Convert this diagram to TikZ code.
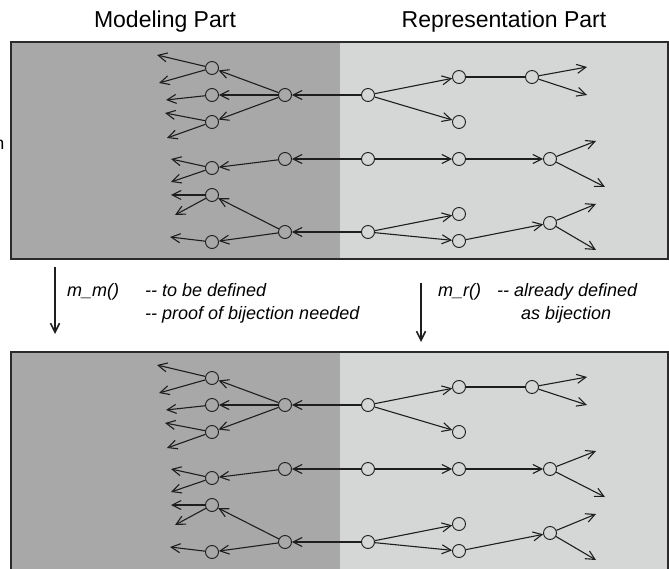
\documentclass[tikz,border=0pt]{standalone}
\usepackage{fontspec}
\setmainfont{Liberation Sans}
\usetikzlibrary{arrows.meta}

\definecolor{modelgray}{HTML}{A8A8A8}
\definecolor{reprgray}{HTML}{D5D6D6}
\definecolor{framecol}{HTML}{2B2B2B}
\definecolor{linecol}{HTML}{1E1E1E}

\tikzset{
  vtx/.style={circle, draw=linecol, line width=0.9pt, minimum size=13pt, inner sep=0pt},
  link/.style={draw=linecol, line width=1.1pt},
  arr/.style={link, -{Straight Barb[length=9pt,width=9pt,line width=1.1pt]}},
  maparr/.style={draw=linecol, line width=1.8pt, -{Straight Barb[length=9pt,width=9pt,line width=1.6pt]}},
  header/.style={font=\fontsize{23}{27}\selectfont, anchor=base, inner sep=0pt},
  note/.style={font=\fontsize{18}{22}\selectfont\itshape, anchor=base west, inner sep=0pt},
}

% One copy of the tree: modeling side on the left, representation side on the right
\newcommand\treenet[2]{%
\begin{scope}[shift={(0,#2)}]
  \node[vtx] (#1A1) at (212,68) {};
  \node[vtx] (#1A2) at (212,95) {};
  \node[vtx] (#1A3) at (212,122) {};
  \node[vtx] (#1A4) at (212,168) {};
  \node[vtx] (#1A5) at (212,195) {};
  \node[vtx] (#1A6) at (212,242) {};
  \node[vtx] (#1B1) at (285,95) {};
  \node[vtx] (#1B2) at (285,159) {};
  \node[vtx] (#1B3) at (285,232) {};
  \node[vtx] (#1C1) at (368,95) {};
  \node[vtx] (#1C2) at (368,159) {};
  \node[vtx] (#1C3) at (368,232) {};
  \node[vtx] (#1D1) at (459,77) {};
  \node[vtx] (#1D2) at (459,122) {};
  \node[vtx] (#1D3) at (459,159) {};
  \node[vtx] (#1D4) at (459,214) {};
  \node[vtx] (#1D5) at (459,241) {};
  \node[vtx] (#1E1) at (532,77) {};
  \node[vtx] (#1E2) at (550,159) {};
  \node[vtx] (#1E3) at (550,223) {};
  % open ends of the outer branches
  \coordinate (#1a1p) at (157,55);
  \coordinate (#1a1q) at (159,83);
  \coordinate (#1a2p) at (166,100);
  \coordinate (#1a3p) at (165,113);
  \coordinate (#1a3q) at (167,138);
  \coordinate (#1a4p) at (171,159);
  \coordinate (#1a4q) at (171,182);
  \coordinate (#1a5p) at (171,195);
  \coordinate (#1a5q) at (175,215);
  \coordinate (#1a6p) at (170,237);
  \coordinate (#1e1p) at (587,67);
  \coordinate (#1e1q) at (587,95);
  \coordinate (#1e2p) at (596,141);
  \coordinate (#1e2q) at (605,187);
  \coordinate (#1e3p) at (596,204);
  \coordinate (#1e3q) at (596,250);
  % modeling side
  \draw[arr] (#1C1) -- (#1B1);
  \draw[arr] (#1C2) -- (#1B2);
  \draw[arr] (#1C3) -- (#1B3);
  \draw[arr] (#1B1) -- (#1A1);
  \draw[arr] (#1B1) -- (#1A2);
  \draw[arr] (#1B1) -- (#1A3);
  \draw[arr] (#1B2) -- (#1A4);
  \draw[arr] (#1B3) -- (#1A5);
  \draw[arr] (#1B3) -- (#1A6);
  \draw[arr] (#1A1) -- (#1a1p);
  \draw[arr] (#1A1) -- (#1a1q);
  \draw[arr] (#1A2) -- (#1a2p);
  \draw[arr] (#1A3) -- (#1a3p);
  \draw[arr] (#1A3) -- (#1a3q);
  \draw[arr] (#1A4) -- (#1a4p);
  \draw[arr] (#1A4) -- (#1a4q);
  \draw[arr] (#1A5) -- (#1a5p);
  \draw[arr] (#1A5) -- (#1a5q);
  \draw[arr] (#1A6) -- (#1a6p);
  % representation side
  \draw[arr] (#1C1) -- (#1D1);
  \draw[arr] (#1C1) -- (#1D2);
  \draw[link] (#1D1) -- (#1E1);
  \draw[arr] (#1E1) -- (#1e1p);
  \draw[arr] (#1E1) -- (#1e1q);
  \draw[arr] (#1C2) -- (#1D3);
  \draw[arr] (#1D3) -- (#1E2);
  \draw[arr] (#1E2) -- (#1e2p);
  \draw[arr] (#1E2) -- (#1e2q);
  \draw[arr] (#1C3) -- (#1D4);
  \draw[arr] (#1C3) -- (#1D5);
  \draw[arr] (#1D5) -- (#1E3);
  \draw[arr] (#1E3) -- (#1e3p);
  \draw[arr] (#1E3) -- (#1e3q);
\end{scope}}

\begin{document}
\begin{tikzpicture}[x=1pt,y=-1pt]
  \useasboundingbox (0,0) rectangle (669,569);

  % upper panel
  \fill[modelgray] (11,42) rectangle (340,259);
  \fill[reprgray] (340,42) rectangle (668,259);
  \draw[framecol, line width=2pt] (11,42) rectangle (668,259);

  % lower panel (runs past the lower edge)
  \fill[modelgray] (11,352) rectangle (340,580);
  \fill[reprgray] (340,352) rectangle (668,580);
  \draw[framecol, line width=2pt] (11,352) rectangle (668,580);

  \treenet{t}{0}
  \treenet{b}{310}

  % column headers
  \node[header] (hmod) at (165,28) {Modeling Part};
  \node[header] (hrep) at (504,28) {Representation Part};
  \node[note, anchor=base east, font=\fontsize{17.5}{21}\selectfont] (cut) at (4.5,150) {n};

  % mappings between the two panels
  \coordinate (mmtop) at (55,267);
  \coordinate (mmbot) at (55,334);
  \coordinate (mrtop) at (421,283);
  \coordinate (mrbot) at (421,342);
  \draw[maparr] (mmtop) -- (mmbot);
  \draw[maparr] (mrtop) -- (mrbot);

  \node[note] (mmname) at (67,296) {m\_m()};
  \node[note] (mmdef) at (145,296) {-{}- to be defined};
  \node[note] (mmproof) at (145,319) {-{}- proof of bijection needed};
  \node[note] (mrname) at (438,296) {m\_r()};
  \node[note] (mrdef) at (497,296) {-{}- already defined};
  \node[note] (mrbij) at (521,319) {as bijection};
\end{tikzpicture}
\end{document}
